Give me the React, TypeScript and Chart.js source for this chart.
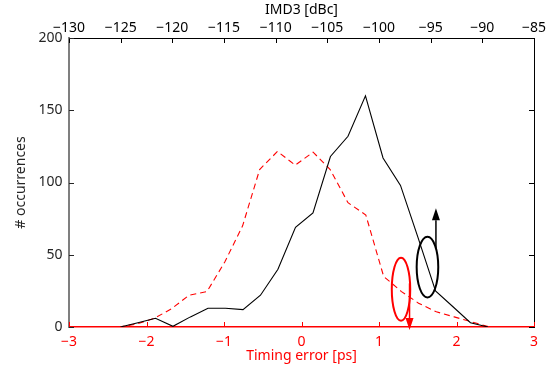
import React, { useEffect, useRef } from "react";
import { Chart, registerables } from "chart.js";

Chart.register(...registerables);

// Timing error histogram (bottom axis, red dashed)
const timingPs = [-2.36, -2.13, -1.9, -1.68, -1.45, -1.22, -0.99, -0.76, -0.54, -0.31, -0.08, 0.15, 0.37, 0.6, 0.83, 1.06, 1.29, 1.51, 1.74, 1.97, 2.2, 2.43];
const timingCounts = [0, 2, 6, 12.5, 22, 24.5, 45, 70, 109, 121.5, 112, 121, 109, 86, 77.5, 35, 24.5, 16.5, 10.5, 7, 3.5, 0];

// IMD3 histogram (top axis, black solid)
const imd3Dbc = [-125.02, -123.33, -121.63, -119.94, -118.25, -116.55, -114.86, -113.16, -111.47, -109.78, -108.08, -106.39, -104.7, -103.0, -101.31, -99.61, -97.92, -96.23, -94.53, -92.84, -91.15, -89.45];
const imd3Counts = [0, 3, 6, 0.5, 7, 13, 13, 12, 22, 40, 69, 79, 118, 132, 160, 117, 98, 62, 25, 14, 3, 0];

// Axis ranges / labels
const timingRange = [-3, 3];
const imd3Range = [-130, -85];
const countRange = [0, 200];
const xTitle = "Timing error [ps]";
const x2Title = "IMD3 [dBc]";
const yTitle = "# occurrences";

// Annotation ellipses (data coordinates)
const redEllipse = { x: 1.284, y: 26.1, rx: 0.119, ry: 21.8, arrowX: 1.394, arrowFrom: 30.2, arrowTo: -2.1 };
const blackEllipse = { x: -95.31, y: 41.5, rx: 1.045, ry: 21.0, arrowX: -94.49, arrowFrom: 54.4, arrowTo: 82.1 };

const FONT = "'Noto Sans', 'Open Sans', 'DejaVu Sans', sans-serif";
const fmt = (v: number) => (v < 0 ? "\u2212" + Math.abs(v) : String(v));

const inwardTicks = {
  id: "inwardTicks",
  afterDraw(chart: any) {
    const { ctx, chartArea: a, scales } = chart;
    const L = 5;
    ctx.save();
    ctx.lineWidth = 1;
    const hTicks = (s: any, y: number, dir: number, color: string) => {
      ctx.strokeStyle = color;
      s.ticks.forEach((t: any) => {
        const px = Math.round(s.getPixelForValue(t.value)) + 0.5;
        ctx.beginPath();
        ctx.moveTo(px, y);
        ctx.lineTo(px, y + dir * L);
        ctx.stroke();
      });
    };
    const vTicks = (s: any, x: number, dir: number, color: string) => {
      ctx.strokeStyle = color;
      s.ticks.forEach((t: any) => {
        const py = Math.round(s.getPixelForValue(t.value)) + 0.5;
        ctx.beginPath();
        ctx.moveTo(x, py);
        ctx.lineTo(x + dir * L, py);
        ctx.stroke();
      });
    };
    hTicks(scales.x, a.bottom, -1, "#ff0000");
    hTicks(scales.x2, a.top, 1, "#000000");
    vTicks(scales.y, a.left, 1, "#262626");
    vTicks(scales.y2, a.right, -1, "#000000");
    ctx.restore();
  },
};

const annotations = {
  id: "annotations",
  afterDraw(chart: any) {
    const { ctx, scales } = chart;
    const y = scales.y;
    const draw = (e: any, xs: any, color: string, up: boolean) => {
      const cx = xs.getPixelForValue(e.x);
      const cy = y.getPixelForValue(e.y);
      const rx = Math.abs(xs.getPixelForValue(e.x + e.rx) - cx);
      const ry = Math.abs(y.getPixelForValue(e.y + e.ry) - cy);
      ctx.save();
      ctx.strokeStyle = color;
      ctx.fillStyle = color;
      ctx.lineWidth = 2;
      ctx.beginPath();
      ctx.ellipse(cx, cy, rx, ry, 0, 0, Math.PI * 2);
      ctx.stroke();
      const ax = xs.getPixelForValue(e.arrowX);
      const y0 = y.getPixelForValue(e.arrowFrom);
      const y1 = y.getPixelForValue(e.arrowTo);
      const head = 12;
      const hw = 4;
      const dir = up ? 1 : -1;
      ctx.lineWidth = 1.5;
      ctx.beginPath();
      ctx.moveTo(ax, y0);
      ctx.lineTo(ax, y1 + dir * head);
      ctx.stroke();
      ctx.beginPath();
      ctx.moveTo(ax, y1);
      ctx.lineTo(ax - hw, y1 + dir * head);
      ctx.lineTo(ax + hw, y1 + dir * head);
      ctx.closePath();
      ctx.fill();
      ctx.restore();
    };
    draw(redEllipse, scales.x, "#ff0000", false);
    draw(blackEllipse, scales.x2, "#000000", true);
  },
};

export default function App() {
  const ref = useRef<HTMLCanvasElement>(null);
  useEffect(() => {
    if (!ref.current) return;
    const font = { family: FONT, size: 14 };
    const chart = new Chart(ref.current, {
      type: "line",
      data: {
        datasets: [
          {
            label: "IMD3",
            data: imd3Dbc.map((v, i) => ({ x: v, y: imd3Counts[i] })),
            xAxisID: "x2",
            yAxisID: "y",
            borderColor: "#000000",
            borderWidth: 1.1,
            pointRadius: 0,
            tension: 0,
            fill: false,
          },
          {
            label: "Timing",
            data: timingPs.map((v, i) => ({ x: v, y: timingCounts[i] })),
            xAxisID: "x",
            yAxisID: "y",
            borderColor: "#ff0000",
            borderWidth: 1.1,
            borderDash: [6, 4],
            pointRadius: 0,
            tension: 0,
            fill: false,
          },
        ],
      },
      options: {
        responsive: false,
        animation: false,
        layout: { padding: 0 },
        plugins: { legend: { display: false }, tooltip: { enabled: false } },
        scales: {
          x: {
            type: "linear",
            position: "bottom",
            min: timingRange[0],
            max: timingRange[1],
            afterFit: (s: any) => { s.height = 48; },
            ticks: { stepSize: 1, color: "#ff0000", font, padding: 7, maxRotation: 0, autoSkip: false, callback: (v: any) => fmt(Number(v)) },
            grid: { display: false, drawTicks: false },
            border: { display: true, color: "#ff0000", width: 1.5 },
            title: { display: true, text: xTitle, color: "#ff0000", font, padding: { top: 0, bottom: 10.5 } },
          },
          x2: {
            type: "linear",
            position: "top",
            min: imd3Range[0],
            max: imd3Range[1],
            afterFit: (s: any) => { s.height = 38; },
            ticks: { stepSize: 5, color: "#000000", font, padding: 2, maxRotation: 0, autoSkip: false, callback: (v: any) => fmt(Number(v)) },
            grid: { display: false, drawTicks: false },
            border: { display: true, color: "#000000", width: 1 },
            title: { display: true, text: x2Title, color: "#000000", font, padding: { top: 1.5, bottom: 0 } },
          },
          y: {
            type: "linear",
            position: "left",
            min: countRange[0],
            max: countRange[1],
            afterFit: (s: any) => { s.width = 69; },
            ticks: { stepSize: 50, color: "#262626", font, padding: 6.5, autoSkip: false, callback: (v: any) => fmt(Number(v)) },
            grid: { display: false, drawTicks: false },
            border: { display: true, color: "#7f7f7f", width: 2 },
            title: { display: true, text: yTitle, color: "#262626", font, padding: { top: 13, bottom: 0 } },
          },
          y2: {
            type: "linear",
            position: "right",
            min: countRange[0],
            max: countRange[1],
            afterFit: (s: any) => { s.width = 16; },
            ticks: { stepSize: 50, display: false },
            grid: { display: false, drawTicks: false },
            border: { display: true, color: "#000000", width: 1 },
          },
        },
      } as any,
      plugins: [inwardTicks, annotations],
    });
    return () => chart.destroy();
  }, []);
  return (
    <div style={{ position: "fixed", left: 0, top: 0, width: 550, height: 375, background: "#fff" }}>
      <canvas ref={ref} width={550} height={375} style={{ display: "block" }} />
    </div>
  );
}
